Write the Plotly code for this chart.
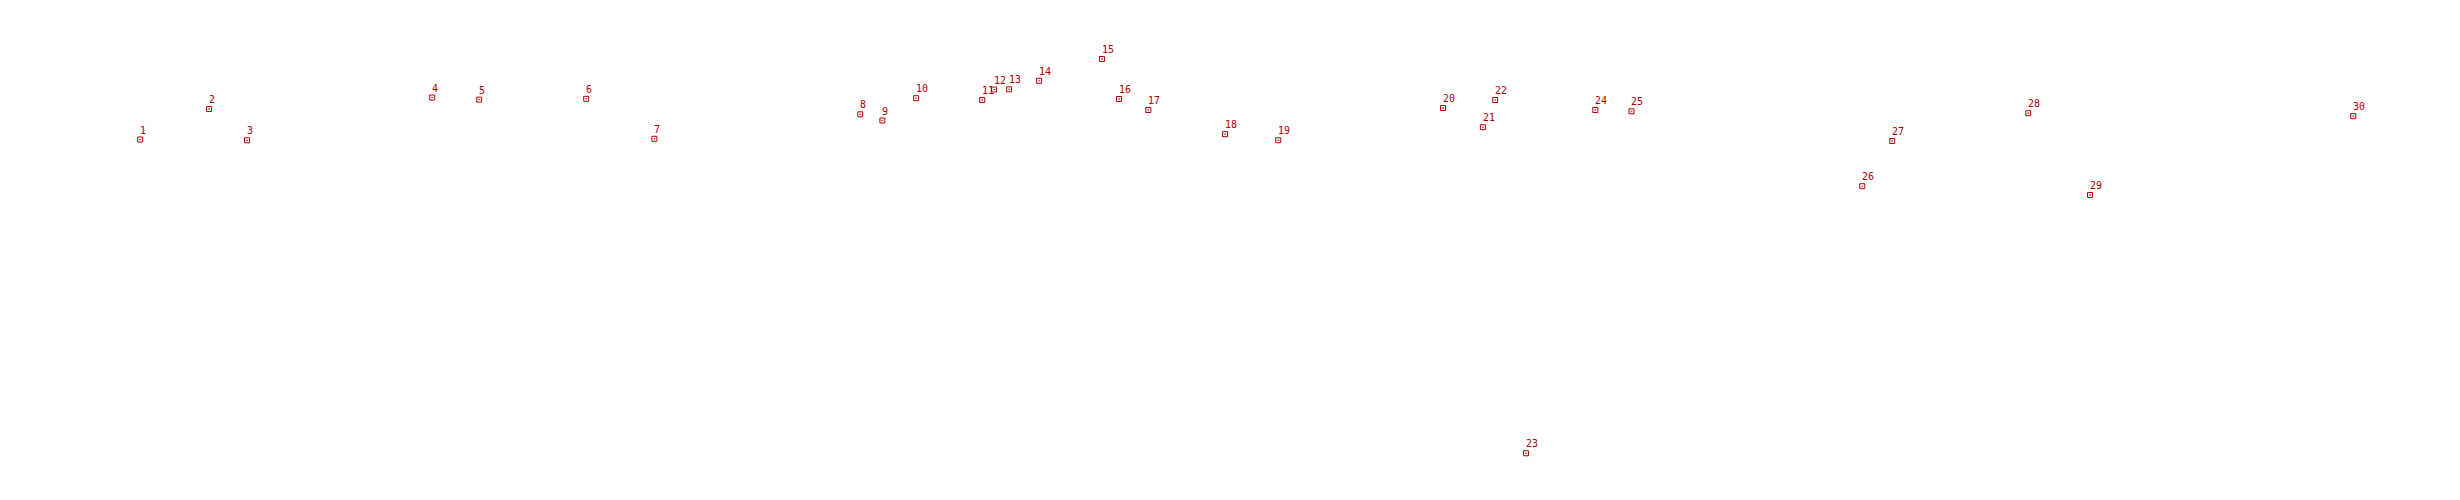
import plotly.graph_objects as go

labels = [str(i) for i in range(1, 31)]
x_vals = [5.70, 8.50, 10.04, 17.57, 19.48, 23.83, 26.60, 34.97, 35.87, 37.24,
          39.93, 40.41, 41.02, 42.24, 44.80, 45.49, 46.68, 49.80, 51.96, 58.66,
          60.28, 60.78, 62.03, 64.85, 66.32, 75.70, 76.92, 82.45, 84.96, 95.66]
y_vals = [72.10, 78.20, 71.94, 80.50, 80.08, 80.24, 72.24, 77.14, 75.90, 80.36,
          80.00, 82.10, 82.14, 83.84, 88.20, 80.20, 78.00, 73.16, 71.94, 78.40,
          74.56, 80.00, 9.34, 78.00, 77.74, 62.76, 71.80, 77.36, 61.00, 76.76]

color = "#b00000"

fig = go.Figure(go.Scatter(
    x=x_vals, y=y_vals, mode="markers",
    marker=dict(symbol="square-open-dot", size=5, color=color,
                line=dict(width=1, color=color)),
    hoverinfo="skip",
))
for xv, yv, lab in zip(x_vals, y_vals, labels):
    fig.add_annotation(x=xv, y=yv, text=lab, showarrow=False,
                       xanchor="left", yanchor="bottom", xshift=-2, yshift=2,
                       font=dict(family="DejaVu Sans Mono", size=10, color=color))
fig.update_layout(
    width=2460, height=500, margin=dict(l=0, r=0, t=0, b=0),
    paper_bgcolor="white", plot_bgcolor="white", showlegend=False,
    xaxis=dict(range=[0.325, 100.325], visible=False),
    yaxis=dict(range=[-1.6, 98.4], visible=False),
)
fig.write_html("out.html")
